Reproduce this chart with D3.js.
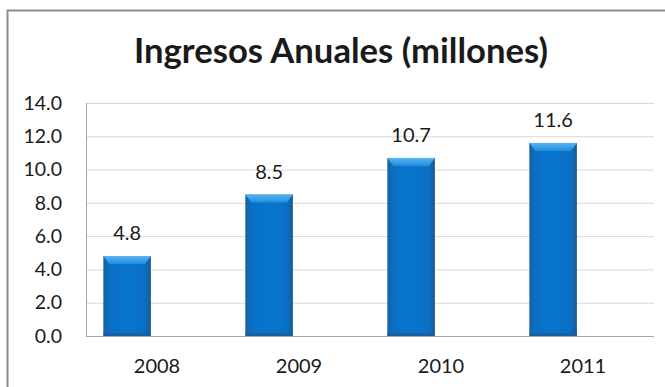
<!DOCTYPE html>
<html>
<head>
<meta charset="utf-8">
<script src="https://cdn.jsdelivr.net/npm/d3@7"></script>
<style>
  html, body { margin: 0; padding: 0; background: #fff; }
  svg { display: block; }
  text { font-family: Lato, "Open Sans", sans-serif; fill: #1a1a1a; }
</style>
</head>
<body>
<svg id="chart" width="665" height="387"></svg>
<script>
// Annual revenue, millions
const years = ["2008", "2009", "2010", "2011"];
const ingresos = [4.8, 8.5, 10.7, 11.6];
const yTicks = [0, 2, 4, 6, 8, 10, 12, 14];
const chartTitle = "Ingresos Anuales (millones)";

const svg = d3.select("#chart");
const plot = { left: 86, right: 654, top: 103, bottom: 336 };

// chart frame (runs past the right and bottom edges)
svg.append("rect")
  .attr("x", 7.5).attr("y", 10.5)
  .attr("width", 700).attr("height", 420)
  .attr("fill", "#fff")
  .attr("stroke", "#8c8c8c").attr("stroke-width", 2);

const x = d3.scaleBand().domain(years).range([plot.left, plot.right]);
const y = d3.scaleLinear().domain([0, 14]).range([plot.bottom, plot.top]);

// gridlines
svg.append("g")
  .selectAll("line").data(yTicks.filter(d => d > 0)).join("line")
  .attr("x1", plot.left).attr("x2", plot.right)
  .attr("y1", d => y(d) + 0.5).attr("y2", d => y(d) + 0.5)
  .attr("stroke", "#d9d9d9").attr("stroke-width", 1);

// y axis labels
const yAxis = d3.axisLeft(y).tickValues(yTicks).tickFormat(d3.format(".1f")).tickSize(0).tickPadding(24);
const gy = svg.append("g").attr("transform", `translate(${plot.left},0)`).call(yAxis);
gy.select(".domain").remove();
gy.selectAll("text").style("font-size", "19.5px").style("font-family", "Lato, sans-serif").attr("fill", "#1a1a1a");

// axis lines
svg.append("line")
  .attr("x1", plot.left + 0.5).attr("x2", plot.left + 0.5)
  .attr("y1", plot.top).attr("y2", plot.bottom)
  .attr("stroke", "#a6a6a6");
svg.append("line")
  .attr("x1", plot.left).attr("x2", plot.right)
  .attr("y1", plot.bottom + 0.5).attr("y2", plot.bottom + 0.5)
  .attr("stroke", "#a6a6a6");

// x axis labels
const xAxis = d3.axisBottom(x).tickSize(0).tickPadding(23);
const gx = svg.append("g").attr("transform", `translate(0,${plot.bottom})`).call(xAxis);
gx.select(".domain").remove();
gx.selectAll("text").style("font-size", "20px").style("font-family", "Lato, sans-serif").attr("fill", "#1a1a1a");

// bevelled column gradients
const defs = svg.append("defs");
const bodyGrad = defs.append("linearGradient").attr("id", "colBody").attr("x1", 0).attr("x2", 1).attr("y1", 0).attr("y2", 0);
[[0, "#1d5f9c"], [0.12, "#0a6fc4"], [0.5, "#0876cf"], [0.88, "#0a6fc4"], [1, "#1b5a94"]]
  .forEach(([o, c]) => bodyGrad.append("stop").attr("offset", o).attr("stop-color", c));
const capGrad = defs.append("linearGradient").attr("id", "colTop").attr("x1", 0).attr("x2", 0).attr("y1", 0).attr("y2", 1);
[[0, "#5cb3f0"], [1, "#1f8ddf"]]
  .forEach(([o, c]) => capGrad.append("stop").attr("offset", o).attr("stop-color", c));

const barOff = x.bandwidth() * 0.122;
const barW = x.bandwidth() * 0.335;
const bev = 8, side = 6;

const data = years.map((yr, i) => ({ yr, v: ingresos[i] }));
const bars = svg.append("g").selectAll("g").data(data).join("g");

bars.append("rect")
  .attr("x", d => x(d.yr) + barOff)
  .attr("y", d => y(d.v))
  .attr("width", barW)
  .attr("height", d => y(0) - y(d.v))
  .attr("fill", "url(#colBody)");

bars.append("path")
  .attr("d", d => {
    const x0 = x(d.yr) + barOff, x1 = x0 + barW, t = y(d.v);
    return `M${x0},${t}L${x1},${t}L${x1 - side},${t + bev}L${x0 + side},${t + bev}Z`;
  })
  .attr("fill", "url(#colTop)");

bars.append("rect")
  .attr("x", d => x(d.yr) + barOff)
  .attr("y", y(0) - 3)
  .attr("width", barW)
  .attr("height", 3)
  .attr("fill", "#1b5d98").attr("opacity", 0.8);

// value labels
bars.append("text")
  .attr("x", d => x(d.yr) + barOff + barW / 2)
  .attr("y", d => y(d.v) - 16)
  .attr("text-anchor", "middle")
  .style("font-size", "20px")
  .text(d => d3.format(".1f")(d.v));

// title
const titleText = svg.append("text")
  .attr("x", 341).attr("y", 63)
  .attr("text-anchor", "middle")
  .style("font-size", "32px").style("font-weight", "bold")
  .attr("fill", "#000")
  .text(chartTitle);
const tw = titleText.node().getComputedTextLength();
titleText.style("font-size", (32 * 414 / tw).toFixed(2) + "px");
</script>
</body>
</html>
